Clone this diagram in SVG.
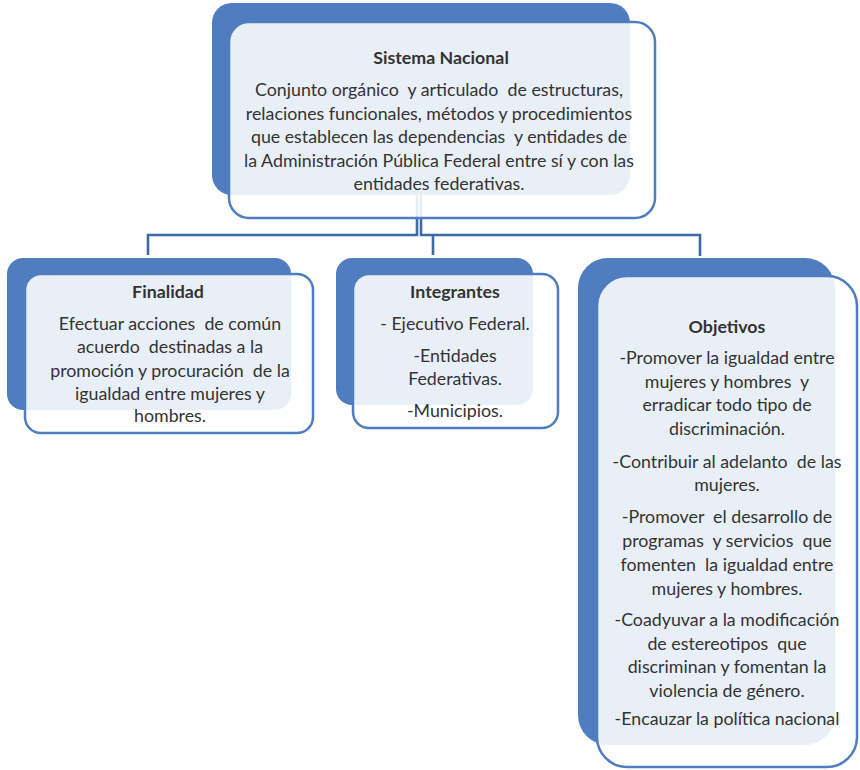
<svg xmlns="http://www.w3.org/2000/svg" width="860" height="770" viewBox="0 0 860 770">
<style>
.back{fill:#4F7DBF;}
.front{fill:#ffffff;fill-opacity:0.88;stroke:#4F7DBF;stroke-width:2.5;}
.conn{fill:none;stroke:#3F6AA8;stroke-width:2.6;}
text{font-family:Lato,"Open Sans","Liberation Sans",sans-serif;font-size:17.8px;fill:#333333;text-anchor:middle;white-space:pre;}
.t{font-weight:bold;}
</style>
<rect width="860" height="770" fill="#ffffff"/>
<g id="connectors">
<path class="conn" d="M417,190 V235 H148 V255"/>
<path class="conn" d="M421,190 V235 H700 V256"/>
<path class="conn" d="M433,235 V255"/>
</g>
<g id="sistema-nacional">
<rect class="back" x="212" y="3" width="418" height="192" rx="20"/>
<rect class="front" x="229" y="22" width="426" height="196" rx="20"/>
<text class="t" x="441" y="64">Sistema Nacional</text>
<text x="439" y="96">Conjunto orgánico  y articulado  de estructuras,</text>
<text x="439" y="120">relaciones funcionales, métodos y procedimientos</text>
<text x="439" y="143">que establecen las dependencias  y entidades de</text>
<text x="439" y="167">la Administración Pública Federal entre sí y con las</text>
<text x="439" y="190">entidades federativas.</text>
</g>
<g id="finalidad">
<rect class="back" x="7" y="258" width="284" height="152" rx="16"/>
<rect class="front" x="25" y="274" width="288" height="159" rx="16"/>
<text class="t" x="168" y="298">Finalidad</text>
<text x="170" y="330">Efectuar acciones  de común</text>
<text x="170" y="353">acuerdo  destinadas a la</text>
<text x="170" y="377">promoción y procuración  de la</text>
<text x="170" y="400">igualdad entre mujeres y</text>
<text x="170" y="422">hombres.</text>
</g>
<g id="integrantes">
<rect class="back" x="336" y="258" width="197" height="147" rx="16"/>
<rect class="front" x="353" y="274" width="205" height="154" rx="16"/>
<text class="t" x="455" y="298">Integrantes</text>
<text x="455" y="330">- Ejecutivo Federal.</text>
<text x="455" y="362">-Entidades</text>
<text x="455" y="385">Federativas.</text>
<text x="455" y="417">-Municipios.</text>
</g>
<g id="objetivos">
<rect class="back" x="578" y="258" width="257" height="487" rx="30"/>
<rect class="front" x="597" y="276" width="260" height="491" rx="30"/>
<text class="t" x="727" y="333">Objetivos</text>
<text x="727" y="364">-Promover la igualdad entre</text>
<text x="727" y="388">mujeres y hombres  y</text>
<text x="727" y="411">erradicar todo tipo de</text>
<text x="727" y="435">discriminación.</text>
<text x="727" y="468">-Contribuir al adelanto  de las</text>
<text x="727" y="491">mujeres.</text>
<text x="727" y="523">-Promover  el desarrollo de</text>
<text x="727" y="547">programas  y servicios  que</text>
<text x="727" y="571">fomenten  la igualdad entre</text>
<text x="727" y="595">mujeres y hombres.</text>
<text x="727" y="626">-Coadyuvar a la modificación</text>
<text x="727" y="650">de estereotipos  que</text>
<text x="727" y="673">discriminan y fomentan la</text>
<text x="727" y="697">violencia de género.</text>
<text x="727" y="725">-Encauzar la política nacional</text>
</g>
</svg>
